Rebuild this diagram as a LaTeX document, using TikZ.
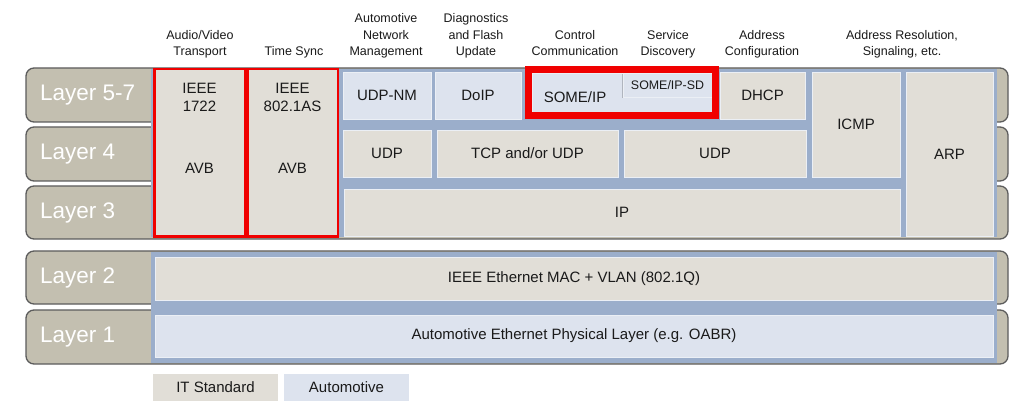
\documentclass[tikz,border=0pt]{standalone}
\usepackage{fontspec}
\setmainfont{Liberation Sans}
\usetikzlibrary{shadows}
\definecolor{tabc}{HTML}{C3BFB0}
\definecolor{tabline}{HTML}{5C5C5C}
\definecolor{panelc}{HTML}{9BAECB}
\definecolor{itc}{HTML}{E1DED7}
\definecolor{autoc}{HTML}{DDE3EE}
\definecolor{redc}{HTML}{F00000}
\definecolor{txtc}{HTML}{1A1A1A}
\begin{document}
\begin{tikzpicture}[x=1pt,y=-1pt,
  tab/.style={fill=tabc, draw=tabline, line width=1.3pt, rounded corners=8pt},
  panel/.style={fill=panelc, draw=none},
  bx/.style={draw=white!80!panelc, line width=0.8pt, inner sep=0pt, text=txtc,
    font=\fontsize{15}{18}\selectfont,
    drop shadow={shadow xshift=1pt, shadow yshift=-1pt, fill=black, opacity=0.35}},
  itbox/.style={bx, fill=itc},
  autobox/.style={bx, fill=autoc},
  redbox/.style={fill=itc, draw=redc, line width=2.5pt, inner sep=0pt},
  redframe/.style={draw=redc, line width=7pt, inner sep=0pt},
  sdbox/.style={fill=autoc, draw=white!80!panelc, line width=0.8pt, inner sep=0pt, text=txtc,
    font=\fontsize{12.4}{15}\selectfont,
    drop shadow={shadow xshift=-1.5pt, shadow yshift=-1.5pt, fill=black, opacity=0.2}},
  txt/.style={text=txtc, font=\fontsize{15}{18}\selectfont, inner sep=0pt, align=center},
  lay/.style={text=white, font=\fontsize{22.5}{26}\selectfont, inner sep=0pt, anchor=west},
  hdr/.style={text=txtc, font=\fontsize{12.5}{16.5}\selectfont, inner sep=0pt, align=center, anchor=south},
  legbox/.style={inner sep=0pt, text=txtc, font=\fontsize{15}{18}\selectfont,
    minimum width=125pt, minimum height=27pt}
]
\useasboundingbox[fill=white] (0,0) rectangle (1024,411);

% layer tabs
\path[tab] (26,68) rectangle (1008,122);
\path[tab] (26,127) rectangle (1008,181);
\path[tab] (26,186) rectangle (1008,239);
\path[tab] (26,251) rectangle (1008,304);
\path[tab] (26,310) rectangle (1008,364);

% blue panels
\path[panel] (151,69.5) rectangle (997,237.5);
\path[panel] (151,252.5) rectangle (997,362.5);

% layer labels
\node[lay] (l57) at (40,95) {Layer 5-7};
\node[lay] (l4) at (40,154) {Layer 4};
\node[lay] (l3) at (40,213) {Layer 3};
\node[lay] (l2) at (40,278) {Layer 2};
\node[lay] (l1) at (40,337) {Layer 1};

% header labels
\node[hdr] (h1) at (200,61) {Audio/Video\\Transport\strut};
\node[hdr] (h2) at (294,61) {Time Sync\strut};
\node[hdr] (h3) at (386,61) {Automotive\\Network\\Management\strut};
\node[hdr] (h4) at (476,61) {Diagnostics\\and Flash\\Update\strut};
\node[hdr] (h5) at (575,61) {Control\\Communication\strut};
\node[hdr] (h6) at (668,61) {Service\\Discovery\strut};
\node[hdr] (h7) at (762,61) {Address\\Configuration\strut};
\node[hdr] (h8) at (902,61) {Address Resolution,\\Signaling, etc.\strut};

% AVB columns
\node[redbox, minimum width=90.5pt, minimum height=167.5pt] (avb1) at (199.5,153) {};
\node[redbox, minimum width=90.5pt, minimum height=167.5pt] (avb2) at (292.5,153) {};
\node[txt] (t1722) at (199.5,97) {IEEE\\1722};
\node[txt] (tas) at (292.5,97) {IEEE\\802.1AS};
\node[txt] (avbt1) at (199.5,168) {AVB};
\node[txt] (avbt2) at (292.5,168) {AVB};

% layer 5-7
\node[autobox, minimum width=88pt, minimum height=47pt] (udpnm) at (387,95.5) {UDP-NM};
\node[autobox, minimum width=86pt, minimum height=47pt] (doip) at (478,95.5) {DoIP};
\node[autobox, minimum width=180pt, minimum height=39pt] (someip) at (622,92.5) {};
\node[txt] (someipt) at (575,97) {SOME/IP};
\node[sdbox, minimum width=89pt, minimum height=24pt] (somesd) at (667.5,85) {SOME/IP-SD};
\node[redframe, minimum width=187pt, minimum height=46pt] (frame) at (622,92.5) {};
\node[itbox, minimum width=85pt, minimum height=47pt] (dhcp) at (762.5,95.5) {DHCP};
\node[itbox, minimum width=88pt, minimum height=105pt] (icmp) at (856,124.5) {ICMP};
\node[itbox, minimum width=87pt, minimum height=164pt] (arp) at (949.5,154) {ARP};

% layer 4
\node[itbox, minimum width=88pt, minimum height=47pt] (udp4) at (387,153.5) {UDP};
\node[itbox, minimum width=181pt, minimum height=47pt] (tcp) at (527.5,153.5) {TCP and/or UDP};
\node[itbox, minimum width=182pt, minimum height=47pt] (udp4b) at (715,153.5) {UDP};

% layer 3
\node[itbox, minimum width=556pt, minimum height=47pt] (ip) at (622,212.5) {IP};

% layer 2 and 1
\node[itbox, minimum width=838pt, minimum height=43pt] (eth) at (574,278.5) {IEEE Ethernet MAC + VLAN (802.1Q)};
\node[autobox, minimum width=838pt, minimum height=42pt] (phy) at (574,336) {Automotive Ethernet Physical Layer (e.g. OABR)};

% legend
\node[legbox, fill=itc] (legit) at (215.5,387.5) {IT Standard};
\node[legbox, fill=autoc] (legauto) at (346.5,387.5) {Automotive};
\end{tikzpicture}
\end{document}
